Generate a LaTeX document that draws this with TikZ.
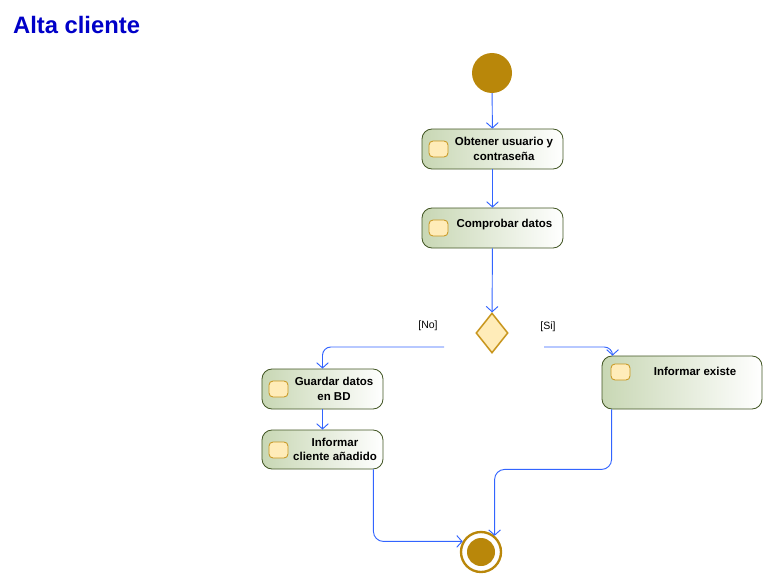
\documentclass[tikz,border=0pt]{standalone}
\usepackage{fontspec}
\setmainfont{Liberation Sans}
\usetikzlibrary{arrows.meta, shapes.geometric, positioning}
\definecolor{titleblue}{RGB}{0,0,200}
\definecolor{flowblue}{RGB}{50,100,255}
\definecolor{nodegold}{RGB}{185,135,10}
\definecolor{actborder}{RGB}{65,85,35}
\definecolor{actleft}{RGB}{200,215,180}
\definecolor{iconfill}{RGB}{255,236,185}
\definecolor{iconborder}{RGB}{200,150,30}
\tikzset{
    action/.style={
        rectangle,
        rounded corners=0.3cm,
        draw=actborder,
        line width=0.7pt,
        left color=actleft,
        right color=white,
        minimum width=4.23cm,
        minimum height=1.2cm,
        inner sep=0pt
    },
    icon/.style={
        rectangle,
        rounded corners=0.12cm,
        draw=iconborder,
        line width=0.7pt,
        fill=iconfill,
        minimum width=0.57cm,
        minimum height=0.48cm,
        inner sep=0pt,
        anchor=north west
    },
    acttext/.style={
        align=center,
        font=\fontsize{9.8}{12.6}\selectfont\bfseries,
        inner sep=0pt
    },
    guard/.style={
        font=\fontsize{9}{11}\selectfont,
        inner sep=0pt
    },
    flow/.style={
        -{Straight Barb[length=4.5pt,width=10pt]},
        line width=0.8pt,
        draw=flowblue
    }
}

\begin{document}
\begin{tikzpicture}[x=0.03cm, y=-0.03cm]
            \useasboundingbox (0,0) rectangle (773,587);

            % Title
            \node[anchor=west, text=titleblue, font=\fontsize{20.3}{24}\selectfont\bfseries]
                (title) at (9,25) {Alta cliente};

            % Start
            \node[circle, fill=nodegold, minimum size=1.2cm, inner sep=0pt] (start) at (492,73) {};

            % Actions
            \node[action] (obtener) at (492.5,149) {};
            \node[icon] (obtenerIcon) at ([xshift=0.21cm, yshift=-0.36cm]obtener.north west) {};
            \node[acttext] (obtenerTxt) at (504,149) {Obtener usuario y\\contraseña};

            \node[action] (comprobar) at (492.5,228) {};
            \node[icon] (comprobarIcon) at ([xshift=0.21cm, yshift=-0.36cm]comprobar.north west) {};
            \node[acttext] (comprobarTxt) at (504.5,225) {Comprobar datos};

            % Decision
            \node[diamond, draw=iconborder, line width=1.3pt, fill=iconfill,
                minimum width=0.96cm, minimum height=1.2cm, inner sep=0pt] (decision) at (492,333) {};
            \coordinate (noStart) at (444,347);
            \coordinate (siStart) at (544,347);
            \node[guard] (noLbl) at (428,326) {[No]};
            \node[guard] (siLbl) at (548,327) {[Si]};

            \node[action, minimum width=3.63cm] (guardar) at (322.5,389) {};
            \node[icon] (guardarIcon) at ([xshift=0.21cm, yshift=-0.36cm]guardar.north west) {};
            \node[acttext] (guardarTxt) at (334,389) {Guardar datos\\en BD};

            \node[action, minimum width=3.63cm, minimum height=1.17cm] (anadido) at (322.5,449.5) {};
            \node[icon] (anadidoIcon) at ([xshift=0.21cm, yshift=-0.36cm]anadido.north west) {};
            \node[acttext] (anadidoTxt) at (335,449.5) {Informar\\cliente añadido};

            \node[action, minimum width=4.8cm, minimum height=1.59cm] (existe) at (682,382.5) {};
            \node[icon] (existeIcon) at ([xshift=0.27cm, yshift=-0.24cm]existe.north west) {};
            \node[acttext] (existeTxt) at (695,371) {Informar existe};

            % End
            \node[circle, draw=nodegold, line width=2pt, fill=white, minimum size=1.2cm, inner sep=0pt] (final) at (481,552) {};
            \fill[nodegold] (final) circle (0.42cm);

            % Flows
            \draw[flow] (start) -- (obtener);
            \draw[flow] (obtener) -- (comprobar);
            \draw[flow] (comprobar) -- (decision);
            \draw[flow, rounded corners=0.25cm] (noStart) -| (guardar.north);
            \draw[flow, rounded corners=0.25cm] (siStart) -| ([xshift=0.33cm]existe.north west);
            \draw[flow] (guardar) -- (anadido);
            \draw[flow, rounded corners=0.3cm] ([xshift=-0.3cm]anadido.south east) |- (final.150);
            \draw[flow, rounded corners=0.3cm] ([xshift=0.3cm]existe.south west) -- ++(0,60) -| (final.50);
\end{tikzpicture}
\end{document}
